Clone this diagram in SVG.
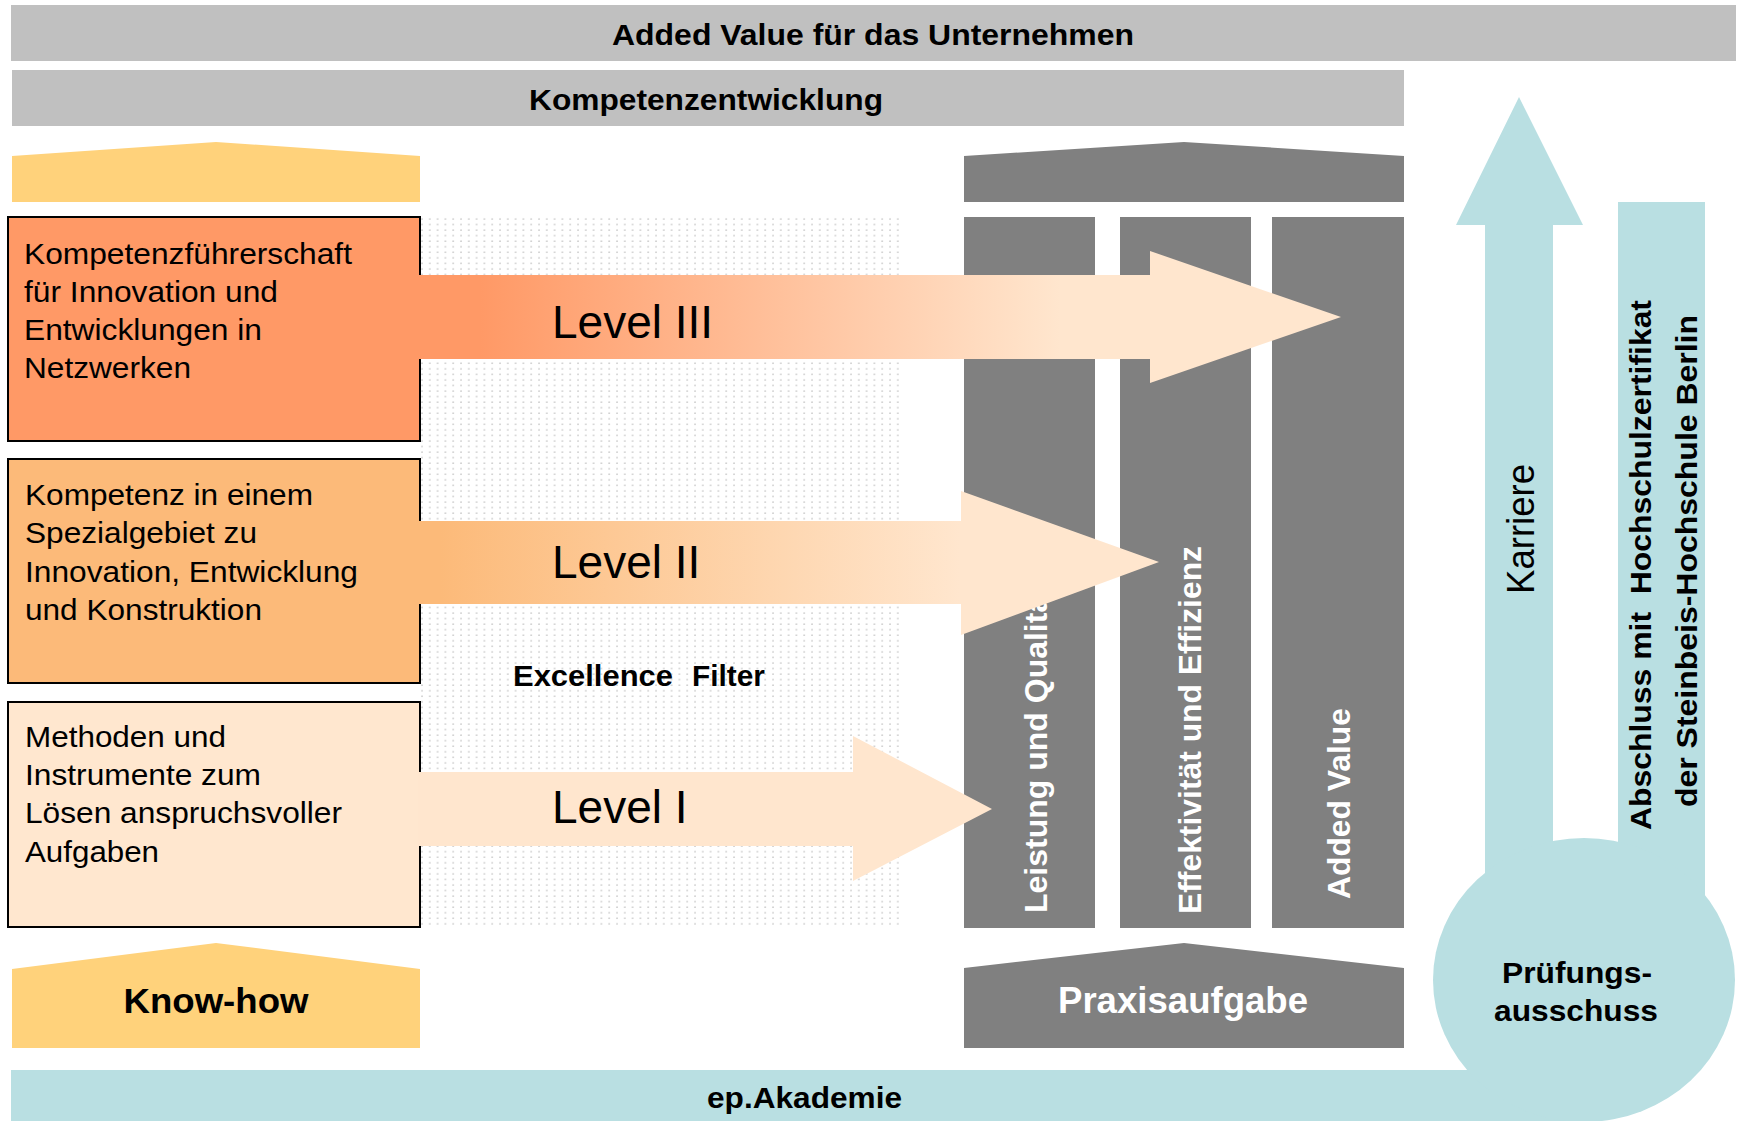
<svg xmlns="http://www.w3.org/2000/svg" width="1741" height="1121" viewBox="0 0 1741 1121">
  <defs>
    <style>
      .txt { font-family: "Liberation Sans", Arial, Helvetica, sans-serif; fill: #000; }
      .bold { font-weight: bold; }
      .white { fill: #fff; }
      .bar { fill: #c0c0c0; }
      .roof-y { fill: #ffd27b; }
      .gray { fill: #808080; }
      .teal { fill: #b9dfe2; }
      .box { stroke: #000; stroke-width: 2; }
      .level { font-size: 46px; }
      .boxtxt { font-size: 29px; }
    </style>
    <pattern id="dots" patternUnits="userSpaceOnUse" x="420" y="217" width="7.8" height="5.55">
      <circle cx="2" cy="2" r="0.8" fill="#c4c4c4"/>
    </pattern>
    <linearGradient id="grad3" gradientUnits="userSpaceOnUse" x1="480" y1="0" x2="1060" y2="0">
      <stop offset="0" stop-color="#ff9966"/>
      <stop offset="1" stop-color="#ffe6ce"/>
    </linearGradient>
    <linearGradient id="grad2" gradientUnits="userSpaceOnUse" x1="440" y1="0" x2="960" y2="0">
      <stop offset="0" stop-color="#fcba79"/>
      <stop offset="1" stop-color="#ffe6ce"/>
    </linearGradient>
  </defs>

  <rect width="1741" height="1121" fill="#fff"/>

  <!-- top bars -->
  <g id="added-value-bar">
    <rect class="bar" x="11" y="5" width="1725" height="56"/>
    <text class="txt bold" x="873" y="45" font-size="30" text-anchor="middle" textLength="522" lengthAdjust="spacingAndGlyphs">Added Value für das Unternehmen</text>
  </g>
  <g id="kompetenzentwicklung-bar">
    <rect class="bar" x="12" y="70" width="1392" height="56"/>
    <text class="txt bold" x="706" y="110" font-size="30" text-anchor="middle" textLength="354" lengthAdjust="spacingAndGlyphs">Kompetenzentwicklung</text>
  </g>

  <!-- roofs -->
  <g id="knowhow-roof">
    <polygon class="roof-y" points="12,156 216,142 420,156 420,202 12,202"/>
  </g>
  <g id="praxis-roof">
    <polygon class="gray" points="964,156 1184,142 1404,156 1404,202 964,202"/>
  </g>

  <!-- dotted filter zone -->
  <g id="excellence-filter">
    <rect x="420" y="217" width="479" height="710" fill="url(#dots)"/>
    <text class="txt bold" x="513" y="686" font-size="29" textLength="160" lengthAdjust="spacingAndGlyphs">Excellence</text>
    <text class="txt bold" x="692" y="686" font-size="29" textLength="73" lengthAdjust="spacingAndGlyphs">Filter</text>
  </g>

  <!-- pillars -->
  <g id="pillar-leistung">
    <rect class="gray" x="964" y="217" width="131" height="711"/>
    <text class="txt bold white" transform="translate(1047,913) rotate(-90)" font-size="32">Leistung und Qualität</text>
  </g>
  <g id="pillar-effektivitaet">
    <rect class="gray" x="1120" y="217" width="131" height="711"/>
    <text class="txt bold white" transform="translate(1201,914) rotate(-90)" font-size="32" textLength="368" lengthAdjust="spacingAndGlyphs">Effektivität und Effizienz</text>
  </g>
  <g id="pillar-added-value">
    <rect class="gray" x="1272" y="217" width="132" height="711"/>
    <text class="txt bold white" transform="translate(1350,899) rotate(-90)" font-size="32" textLength="191" lengthAdjust="spacingAndGlyphs">Added Value</text>
  </g>

  <!-- competence boxes -->
  <g id="box-level3">
    <rect class="box" x="8" y="217" width="412" height="224" fill="#ff9966"/>
    <text class="txt boxtxt" x="24" y="264" textLength="328" lengthAdjust="spacingAndGlyphs">Kompetenzführerschaft</text>
    <text class="txt boxtxt" x="24" y="302" textLength="254" lengthAdjust="spacingAndGlyphs">für Innovation und</text>
    <text class="txt boxtxt" x="24" y="340" textLength="238" lengthAdjust="spacingAndGlyphs">Entwicklungen in</text>
    <text class="txt boxtxt" x="24" y="378" textLength="167" lengthAdjust="spacingAndGlyphs">Netzwerken</text>
  </g>
  <g id="box-level2">
    <rect class="box" x="8" y="459" width="412" height="224" fill="#fcba79"/>
    <text class="txt boxtxt" x="25" y="505" textLength="288" lengthAdjust="spacingAndGlyphs">Kompetenz in einem</text>
    <text class="txt boxtxt" x="25" y="543" textLength="232" lengthAdjust="spacingAndGlyphs">Spezialgebiet zu</text>
    <text class="txt boxtxt" x="25" y="582" textLength="333" lengthAdjust="spacingAndGlyphs">Innovation, Entwicklung</text>
    <text class="txt boxtxt" x="25" y="620" textLength="237" lengthAdjust="spacingAndGlyphs">und Konstruktion</text>
  </g>
  <g id="box-level1">
    <rect class="box" x="8" y="702" width="412" height="225" fill="#ffe7cf"/>
    <text class="txt boxtxt" x="25" y="747" textLength="201" lengthAdjust="spacingAndGlyphs">Methoden und</text>
    <text class="txt boxtxt" x="25" y="785" textLength="236" lengthAdjust="spacingAndGlyphs">Instrumente zum</text>
    <text class="txt boxtxt" x="25" y="823" textLength="317" lengthAdjust="spacingAndGlyphs">Lösen anspruchsvoller</text>
    <text class="txt boxtxt" x="25" y="862" textLength="134" lengthAdjust="spacingAndGlyphs">Aufgaben</text>
  </g>

  <!-- level arrows -->
  <g id="connectors">
    <polygon points="418,275 1150,275 1150,251 1341,317 1150,383 1150,359 418,359" fill="url(#grad3)"/>
    <text class="txt level" x="552" y="338">Level III</text>
    <polygon points="418,521 961,521 961,491 1159,562 961,635 961,604 418,604" fill="url(#grad2)"/>
    <text class="txt level" x="552" y="578">Level II</text>
    <polygon points="418,772 853,772 853,736 992,809 853,881 853,846 418,846" fill="#ffe6ce"/>
    <text class="txt level" x="552" y="823">Level I</text>
  </g>

  <!-- bases -->
  <g id="knowhow">
    <polygon class="roof-y" points="12,969 216,943 420,969 420,1048 12,1048"/>
    <text class="txt bold" x="216" y="1013" font-size="35" text-anchor="middle" textLength="185" lengthAdjust="spacingAndGlyphs">Know-how</text>
  </g>
  <g id="praxisaufgabe">
    <polygon class="gray" points="964,968 1184,943 1404,968 1404,1048 964,1048"/>
    <text class="txt bold white" x="1183" y="1013" font-size="36" text-anchor="middle" textLength="250" lengthAdjust="spacingAndGlyphs">Praxisaufgabe</text>
  </g>

  <!-- right-hand career track -->
  <g id="ep-akademie">
    <rect class="teal" x="11" y="1070" width="1573" height="51"/>
    <text class="txt bold" x="707" y="1108" font-size="29" textLength="195" lengthAdjust="spacingAndGlyphs">ep.Akademie</text>
  </g>
  <g id="karriere">
    <polygon class="teal" points="1485,1000 1485,225 1456,225 1519,97 1583,225 1553,225 1553,1000"/>
    <text class="txt" transform="translate(1534,594) rotate(-90)" font-size="39" textLength="130" lengthAdjust="spacingAndGlyphs">Karriere</text>
  </g>
  <g id="abschluss">
    <rect class="teal" x="1618" y="202" width="87" height="780"/>
    <text class="txt bold" xml:space="preserve" transform="translate(1651,830) rotate(-90)" font-size="30" textLength="530" lengthAdjust="spacingAndGlyphs">Abschluss mit  Hochschulzertifikat</text>
    <text class="txt bold" transform="translate(1697,807) rotate(-90)" font-size="30" textLength="492" lengthAdjust="spacingAndGlyphs">der Steinbeis-Hochschule Berlin</text>
  </g>
  <g id="pruefungsausschuss">
    <ellipse class="teal" cx="1584" cy="980" rx="151" ry="142"/>
    <text class="txt bold" x="1577" y="983" font-size="30" text-anchor="middle" textLength="150" lengthAdjust="spacingAndGlyphs">Prüfungs-</text>
    <text class="txt bold" x="1576" y="1021" font-size="30" text-anchor="middle" textLength="164" lengthAdjust="spacingAndGlyphs">ausschuss</text>
  </g>
</svg>
